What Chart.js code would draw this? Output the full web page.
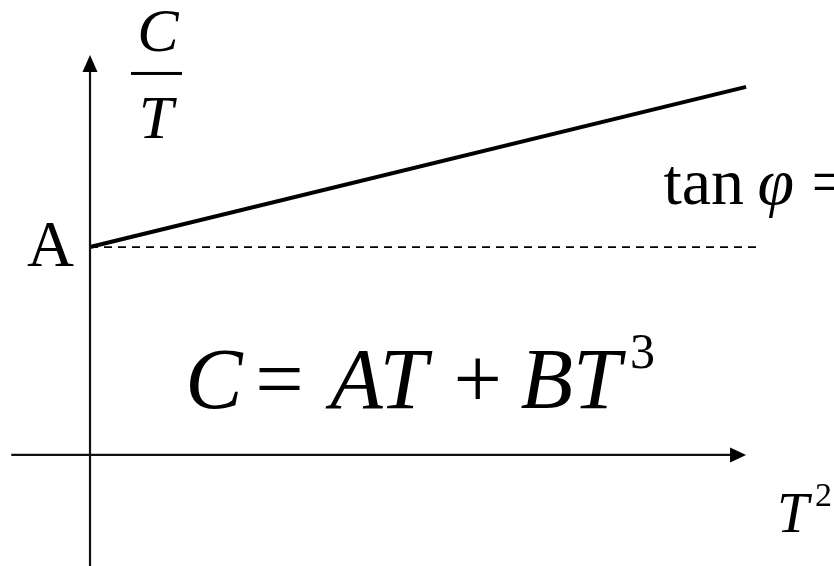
<!DOCTYPE html>
<html>
<head>
<meta charset="utf-8">
<script src="https://cdn.jsdelivr.net/npm/chart.js@4"></script>
<style>
  html, body { margin: 0; padding: 0; background: #fff; }
  #plot { display: block; }
</style>
</head>
<body>
<canvas id="plot" width="834" height="566"></canvas>
<script>
// C/T plotted against T^2: intercept A, slope B (arbitrary units)
const T2_VALUES = [0, 10];
const CT_VALUES = [5, 8.85];
const INTERCEPT_A = 5;
const DASH_END_X = 10.17;

// axis extents in the same units
const X_AXIS_RANGE = [-1.2, 10];
const Y_AXIS_RANGE = [-2.7, 9.62];
const VIEW_X = [-1.372, 11.34];
const VIEW_Y = [-2.67, 10.94];

// labels: [text, x, y] in data units
const AXIS_LABEL_A = ['A', -0.96, 0.46];
const FORMULA_PARTS = [
  ['C', 1.45, 1.14, 'italic'],
  ['=', 2.52, 1.14, 'normal'],
  ['AT', 3.66, 1.14, 'italic'],
  ['+', 5.54, 1.14, 'normal'],
  ['BT', 6.56, 1.14, 'italic'],
];
const FORMULA_POWER = ['3', 8.23, 2.1];

const SERIF = '"Liberation Serif", "Times New Roman", serif';

const lineData = T2_VALUES.map((x, i) => ({ x, y: CT_VALUES[i] }));

const arrowPlugin = {
  id: 'axisArrows',
  afterDatasetsDraw(chart) {
    const { ctx, scales: { x, y } } = chart;
    ctx.save();
    ctx.fillStyle = '#000';
    // up arrow on the C/T axis
    const ux = x.getPixelForValue(0), uy = y.getPixelForValue(Y_AXIS_RANGE[1]);
    ctx.beginPath();
    ctx.moveTo(ux, uy);
    ctx.lineTo(ux - 7.5, uy + 17);
    ctx.lineTo(ux + 7.5, uy + 17);
    ctx.closePath();
    ctx.fill();
    // right arrow on the T^2 axis
    const rx = x.getPixelForValue(X_AXIS_RANGE[1]), ry = y.getPixelForValue(0);
    ctx.beginPath();
    ctx.moveTo(rx, ry);
    ctx.lineTo(rx - 16, ry - 7.5);
    ctx.lineTo(rx - 16, ry + 7.5);
    ctx.closePath();
    ctx.fill();
    ctx.restore();
  },
};

const textPlugin = {
  id: 'mathLabels',
  afterDraw(chart) {
    const { ctx, scales: { x, y } } = chart;
    const px = v => x.getPixelForValue(v);
    const py = v => y.getPixelForValue(v);
    ctx.save();
    ctx.fillStyle = '#000';
    ctx.textBaseline = 'alphabetic';
    ctx.textAlign = 'left';

    // C / T fraction next to the vertical axis
    const fx = px(0) + 66;
    ctx.font = `italic 62px ${SERIF}`;
    ctx.textAlign = 'center';
    ctx.fillText('C', fx + 2, py(0) - 404);
    ctx.fillText('T', fx, py(0) - 317);
    ctx.fillRect(fx - 25, py(0) - 383, 51, 3);

    // intercept label
    ctx.textAlign = 'left';
    ctx.font = `65px ${SERIF}`;
    ctx.fillText(AXIS_LABEL_A[0], px(AXIS_LABEL_A[1]), py(INTERCEPT_A) + 19);

    // slope note, runs off the right edge
    const sx = px(8.74), sy = py(6.03);
    ctx.font = `66px ${SERIF}`;
    ctx.fillText('tan', sx, sy);
    ctx.font = `italic 66px ${SERIF}`;
    ctx.fillText('\u03c6', sx + 94, sy);
    ctx.font = `66px ${SERIF}`;
    ctx.fillText('=', sx + 148, sy);

    // C = AT + BT^3
    FORMULA_PARTS.forEach(([t, vx, vy, style]) => {
      ctx.font = `${style === 'italic' ? 'italic ' : ''}86px ${SERIF}`;
      ctx.fillText(t, px(vx), py(vy));
    });
    ctx.font = `50px ${SERIF}`;
    ctx.fillText(FORMULA_POWER[0], px(FORMULA_POWER[1]), py(FORMULA_POWER[2]));

    // T^2 axis title
    ctx.font = `italic 57px ${SERIF}`;
    ctx.fillText('T', px(10.47), py(0) + 77);
    ctx.font = `34px ${SERIF}`;
    ctx.fillText('2', px(11.05), py(0) + 51);
    ctx.restore();
  },
};

new Chart(document.getElementById('plot'), {
  type: 'scatter',
  data: {
    datasets: [
      {
        // horizontal axis
        data: [{ x: X_AXIS_RANGE[0], y: 0 }, { x: X_AXIS_RANGE[1] - 0.2, y: 0 }],
        showLine: true, borderColor: '#111', borderWidth: 2.2, pointRadius: 0,
      },
      {
        // vertical axis
        data: [{ x: 0, y: Y_AXIS_RANGE[0] }, { x: 0, y: Y_AXIS_RANGE[1] - 0.3 }],
        showLine: true, borderColor: '#111', borderWidth: 2.2, pointRadius: 0,
      },
      {
        // level of the intercept
        data: [{ x: 0, y: INTERCEPT_A }, { x: DASH_END_X, y: INTERCEPT_A }],
        showLine: true, borderColor: '#000', borderWidth: 1.8, borderDash: [8, 6], pointRadius: 0,
      },
      {
        label: 'C/T',
        data: lineData,
        showLine: true, borderColor: '#000', borderWidth: 4, pointRadius: 0,
        borderCapStyle: 'butt',
      },
    ],
  },
  options: {
    responsive: false,
    animation: false,
    layout: { padding: 0 },
    scales: {
      x: { type: 'linear', display: false, min: VIEW_X[0], max: VIEW_X[1] },
      y: { type: 'linear', display: false, min: VIEW_Y[0], max: VIEW_Y[1] },
    },
    plugins: { legend: { display: false }, tooltip: { enabled: false } },
  },
  plugins: [arrowPlugin, textPlugin],
});
</script>
</body>
</html>
